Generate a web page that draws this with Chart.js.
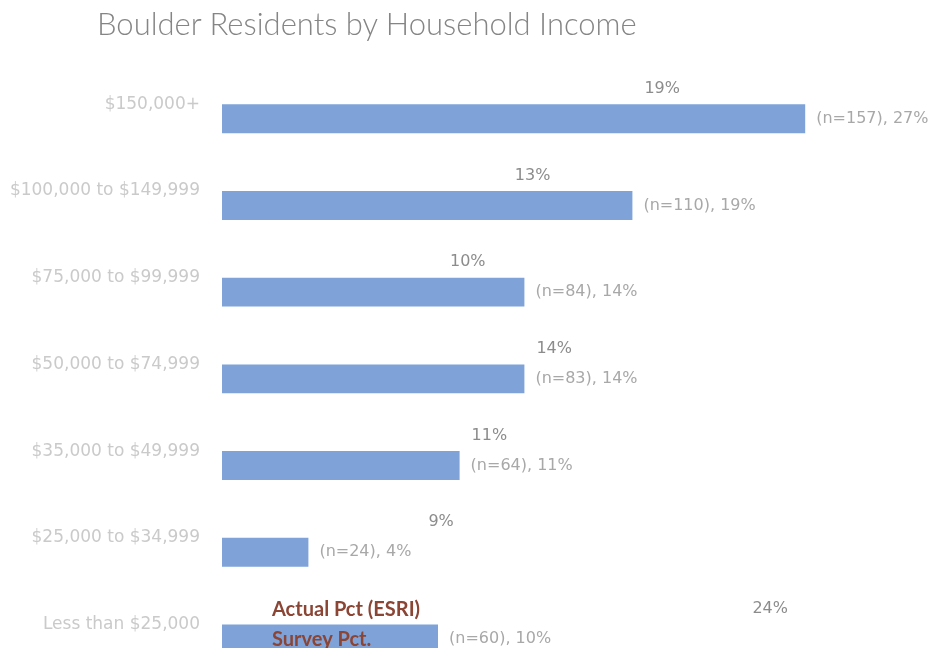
<!DOCTYPE html>
<html lang="en">

<head>
  <meta charset="UTF-8">
  <title>Boulder Residents by Household Income</title>
  <script src="https://cdn.jsdelivr.net/npm/chart.js"></script>
  <style>
    html, body { margin: 0; padding: 0; background: #fff; overflow: hidden; }
    #wrap { position: relative; width: 930px; height: 700px; }
    #title {
      position: absolute; left: 97px; top: 8px;
      font: 300 31px Lato, sans-serif; line-height: 30px;
      color: #858585; white-space: nowrap;
    }
    canvas { display: block; }
  </style>
</head>

<body>
  <div id="wrap">
    <div id="title">Boulder Residents by Household Income</div>
    <canvas id="incomeChart" width="930" height="700"></canvas>
  </div>
  <script>
    // categories, top to bottom
    const brackets = ['$150,000+', '$100,000 to $149,999', '$75,000 to $99,999', '$50,000 to $74,999',
      '$35,000 to $49,999', '$25,000 to $34,999', 'Less than $25,000'];
    // ESRI share (%) - bars are not shown, only the labels
    const actualPct = [19, 13, 10, 14, 11, 9, 24];
    // survey share (%) and respondents
    const surveyPct = [27, 19, 14, 14, 11, 4, 10];
    const surveyN = [157, 110, 84, 83, 64, 24, 60];

    const barBlue = '#7fa3d9';
    const legendBrown = '#8a4535';

    // value labels after the bar ends + the odd legend sitting on the last row
    const labelsPlugin = {
      id: 'barLabels',
      afterDatasetsDraw(chart) {
        const ctx = chart.ctx;
        ctx.save();
        ctx.textBaseline = 'middle';
        ctx.textAlign = 'left';
        ctx.font = '16px "DejaVu Sans"';

        chart.getDatasetMeta(0).data.forEach((bar, i) => {
          ctx.fillStyle = '#8c8c8c';
          ctx.fillText(actualPct[i] + '%', bar.x + 12, bar.y - 1);
        });
        chart.getDatasetMeta(1).data.forEach((bar, i) => {
          ctx.fillStyle = '#a8a8a8';
          ctx.fillText('(n=' + surveyN[i] + '), ' + surveyPct[i] + '%', bar.x + 11, bar.y);
        });

        // legend text
        const last = brackets.length - 1;
        const a = chart.getDatasetMeta(0).data[last];
        const s = chart.getDatasetMeta(1).data[last];
        const lx = chart.scales.x.left + 50;
        ctx.font = 'bold 20px Lato';
        ctx.fillStyle = legendBrown;
        ctx.fillText(chart.data.datasets[0].label, lx, a.y);
        ctx.fillText(chart.data.datasets[1].label, lx, s.y + 1);
        ctx.restore();
      }
    };

    const ctx = document.getElementById('incomeChart').getContext('2d');
    const incomeChart = new Chart(ctx, {
      type: 'bar',
      data: {
        labels: brackets,
        datasets: [{
          label: 'Actual Pct (ESRI)',
          data: actualPct,
          backgroundColor: 'rgba(0,0,0,0)',
          barPercentage: 1,
          categoryPercentage: 0.667
        }, {
          label: 'Survey Pct.',
          data: surveyPct,
          backgroundColor: barBlue,
          barPercentage: 1,
          categoryPercentage: 0.667
        }]
      },
      options: {
        indexAxis: 'y',
        responsive: false,
        animation: false,
        layout: { padding: { top: 61, bottom: 16, right: 60, left: 0 } },
        plugins: {
          legend: { display: false },
          title: { display: false },
          tooltip: { enabled: false }
        },
        scales: {
          x: {
            display: false,
            min: 0,
            max: 30
          },
          y: {
            grid: { display: false, drawTicks: false },
            border: { display: false },
            ticks: {
              padding: 22,
              color: '#cacaca',
              font: { family: 'DejaVu Sans', size: 17 }
            },
            afterFit(scale) { scale.width = 222; }
          }
        }
      },
      plugins: [labelsPlugin]
    });
  </script>
</body>

</html>
